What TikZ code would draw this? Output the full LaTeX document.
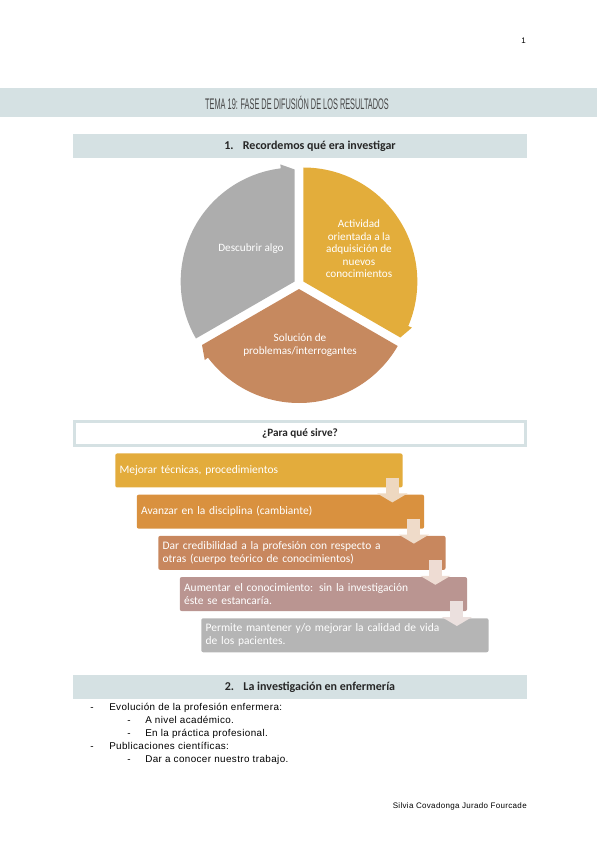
\documentclass[tikz,border=0pt]{standalone}
\usepackage{fontspec}
\setmainfont{Carlito}
\newfontfamily\arialfont[LetterSpace=4]{Liberation Sans}
\newfontfamily\titlefont[FakeStretch=0.48]{Liberation Sans}
\usetikzlibrary{arrows.meta, positioning, calc}
\definecolor{cbar}{HTML}{D5E1E3}
\definecolor{ctext}{HTML}{262626}
\definecolor{ctitle}{HTML}{474747}
\definecolor{cgray}{HTML}{ADADAD}
\definecolor{cgold}{HTML}{E3AD3B}
\definecolor{cbrown}{HTML}{C6895F}
\definecolor{cstepA}{HTML}{E3AC3C}
\definecolor{cstepB}{HTML}{D9913F}
\definecolor{cstepC}{HTML}{C8875E}
\definecolor{cstepD}{HTML}{BA9591}
\definecolor{cstepE}{HTML}{B5B5B5}
\definecolor{carrowA}{HTML}{EED8C0}
\definecolor{carrowB}{HTML}{EFDBC9}
\definecolor{carrowC}{HTML}{EEDCD3}
\definecolor{carrowD}{HTML}{EBE0DE}
\tikzset{
  titlebar/.style={fill=cbar, inner sep=0pt, minimum width=450pt, minimum height=21.75pt},
  secbar/.style={fill=cbar, inner sep=0pt, minimum width=340.5pt, minimum height=18pt, text=ctext, font=\bfseries\fontsize{9}{10}\selectfont},
  askbox/.style={draw=cbar, line width=2.2pt, fill=white, minimum width=338pt, minimum height=18.5pt, text=ctext, font=\bfseries\fontsize{8.4}{10}\selectfont},
  pietext/.style={text=white, align=center, inner sep=0pt, font=\fontsize{8.4}{9.4}\selectfont},
  stepbox/.style={anchor=north west, rounded corners=1.5pt, minimum width=215.5pt, minimum height=25.5pt, text width=209pt, inner xsep=3.25pt, inner ysep=1pt, align=left, text=white, font=\fontsize{8.6}{9.8}\selectfont},
  steparrow/.style={line width=9.75pt, -{Triangle[width=22.5pt, length=6.75pt]}},
  bullet/.style={anchor=base west, inner sep=0pt, text=black, font=\arialfont\fontsize{7.4}{9}\selectfont},
  footer/.style={anchor=base east, inner sep=0pt, text=black, font=\arialfont\fontsize{6}{7}\selectfont},
}
\newcommand{\pierad}{114}
\newcommand{\piewedge}[4]{% #1 colour, #2 start, #3 arrow end, #4 push-out angle
  \pgfmathsetmacro{\pieb}{#3+7}
  \fill[#1, shift={(#4:5)}] (0,0) -- (#2:\pierad) arc[start angle=#2, end angle=\pieb, radius=\pierad]
    -- ({\pieb}:{\pierad+4}) -- ({#3}:{\pierad-2}) -- cycle;}

\begin{document}
\begin{tikzpicture}[x=0.75pt, y=-0.75pt]
  \useasboundingbox (0,0) rectangle (600,848);
  \node[footer] (pag) at (526,44) {1};
  \node[titlebar] (tema) at (297,102.5) {\titlefont\fontsize{11.5}{12}\selectfont\color{ctitle}TEMA 19: FASE DE DIFUSIÓN DE LOS RESULTADOS};
  \node[secbar] (sec1) at (300,146) {\hspace*{15pt}1.\hspace{7pt}Recordemos qué era investigar};

  % ciclo
  \begin{scope}[shift={(299,284)}, yscale=-1]
    \piewedge{cgray}{210}{90}{150}
    \piewedge{cgold}{90}{-30}{30}
    \piewedge{cbrown}{-30}{-150}{-90}
  \end{scope}
  \node[pietext] (descubrir) at (251,249) {Descubrir algo};
  \node[pietext] (actividad) at (359,249) {Actividad\\orientada a la\\adquisición de\\nuevos\\conocimientos};
  \node[pietext] (solucion) at (300,345) {Solución de\\problemas/interrogantes};

  % para que sirve
  \node[askbox] (para) at (300,433.5) {¿Para qué sirve?};
  \foreach \txt/\col [count=\i] in {
      {Mejorar técnicas, procedimientos}/cstepA,
      {Avanzar en la disciplina (cambiante)}/cstepB,
      {Dar credibilidad a la profesión con respecto a\\otras (cuerpo teórico de conocimientos)}/cstepC,
      {Aumentar el conocimiento: sin la investigación\\éste se estancaría.}/cstepD,
      {Permite mantener y/o mejorar la calidad de vida\\de los pacientes.}/cstepE}
    \node[stepbox, fill=\col] (s\i) at ({93.5+21.5*\i}, {412+41.2*\i}) {\txt};
  \foreach \i/\acol [evaluate=\i as \j using int(\i+1)] in {1/carrowA, 2/carrowB, 3/carrowC, 4/carrowD}
    \draw[steparrow, \acol] ($(s\i.south east)+(-10.5,-10)$) -- ($(s\j.north east)+(-32,8)$);

  \node[secbar] (sec2) at (300,687) {\hspace*{15pt}2.\hspace{7pt}La investigación en enfermería};
  \node[bullet] (b1) at (90,710.5) {\makebox[14.25pt][l]{-}Evolución de la profesión enfermera:};
  \node[bullet] (b2) at (127,723.5) {\makebox[13.5pt][l]{-}A nivel académico.};
  \node[bullet] (b3) at (127,736.5) {\makebox[13.5pt][l]{-}En la práctica profesional.};
  \node[bullet] (b4) at (90,749.5) {\makebox[14.25pt][l]{-}Publicaciones científicas:};
  \node[bullet] (b5) at (127,762.5) {\makebox[13.5pt][l]{-}Dar a conocer nuestro trabajo.};

  \node[footer] (autora) at (527,808) {Silvia Covadonga Jurado Fourcade};
\end{tikzpicture}
\end{document}
